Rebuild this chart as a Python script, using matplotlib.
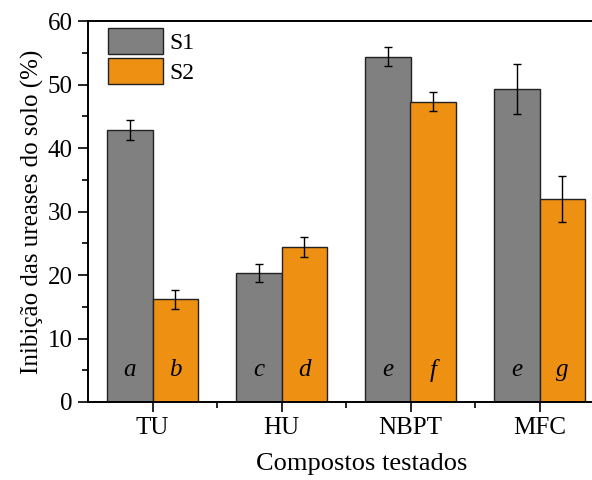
import matplotlib
matplotlib.use("Agg")
import matplotlib.pyplot as plt
import numpy as np
from matplotlib.ticker import MultipleLocator
from matplotlib.patches import Patch

categories = ["TU", "HU", "NBPT", "MFC"]
s1_values = [42.8, 20.3, 54.4, 49.3]
s1_errors = [1.6, 1.4, 1.5, 3.9]
s2_values = [16.2, 24.4, 47.3, 32.0]
s2_errors = [1.5, 1.6, 1.45, 3.65]
s1_letters = ["a", "c", "e", "e"]
s2_letters = ["b", "d", "f", "g"]
series_names = ["S1", "S2"]

plt.rcParams['font.family'] = ['Liberation Serif', 'DejaVu Serif']

fig = plt.figure(figsize=(5.92, 4.8), dpi=100)
ax = fig.add_axes([88/592, 78/480, 516/592, 381/480])

gray = "#808080"
orange = "#EE9012"
edge = "#222222"
w = 0.35
x = np.arange(len(categories))
ax.bar(x - w/2, s1_values, w, color=gray, edgecolor=edge, linewidth=1.0, zorder=2)
ax.bar(x + w/2, s2_values, w, color=orange, edgecolor=edge, linewidth=1.0, zorder=2)
ax.errorbar(x - w/2, s1_values, yerr=s1_errors, fmt="none", ecolor="black",
            elinewidth=1.0, capsize=3, capthick=1.0, zorder=3)
ax.errorbar(x + w/2, s2_values, yerr=s2_errors, fmt="none", ecolor="black",
            elinewidth=1.0, capsize=3, capthick=1.0, zorder=3)

for i in range(len(categories)):
    ax.text(x[i] - w/2, 5.0, s1_letters[i], ha="center", va="center",
            fontsize=18, style="italic", zorder=4)
    ax.text(x[i] + w/2, 5.0, s2_letters[i], ha="center", va="center",
            fontsize=18, style="italic", zorder=4)

ax.set_xlim(-0.5, 3.5)
ax.set_ylim(0, 60)
ax.set_xticks(x)
ax.set_xticklabels(categories, fontsize=18)
ax.set_xticks(x[:-1] + 0.5, minor=True)
ax.yaxis.set_major_locator(MultipleLocator(10))
ax.yaxis.set_minor_locator(MultipleLocator(5))
ax.tick_params(axis="y", labelsize=18)
ax.tick_params(which="major", direction="out", length=7, width=1.2, pad=4)
ax.tick_params(which="minor", direction="out", length=4, width=1.2)
ax.tick_params(axis="x", which="both", top=False)
ax.tick_params(axis="y", which="both", right=False)
for s in ax.spines.values():
    s.set_linewidth(1.4)

ax.set_ylabel("Inibição das ureases do solo (%)", fontsize=18, labelpad=3)
ax.set_xlabel("Compostos testados", fontsize=19)
ax.xaxis.set_label_coords(0.531, -0.134)

handles = [Patch(facecolor=gray, edgecolor=edge, linewidth=1.0),
           Patch(facecolor=orange, edgecolor=edge, linewidth=1.0)]
ax.legend(handles, series_names, loc="upper left", bbox_to_anchor=(0.0205, 1.006),
          frameon=False, fontsize=17, handlelength=2.33, handleheight=1.316,
          handletextpad=0.25, labelspacing=0.17, borderaxespad=0.0, borderpad=0.4)

fig.savefig("out.png", dpi=100)
